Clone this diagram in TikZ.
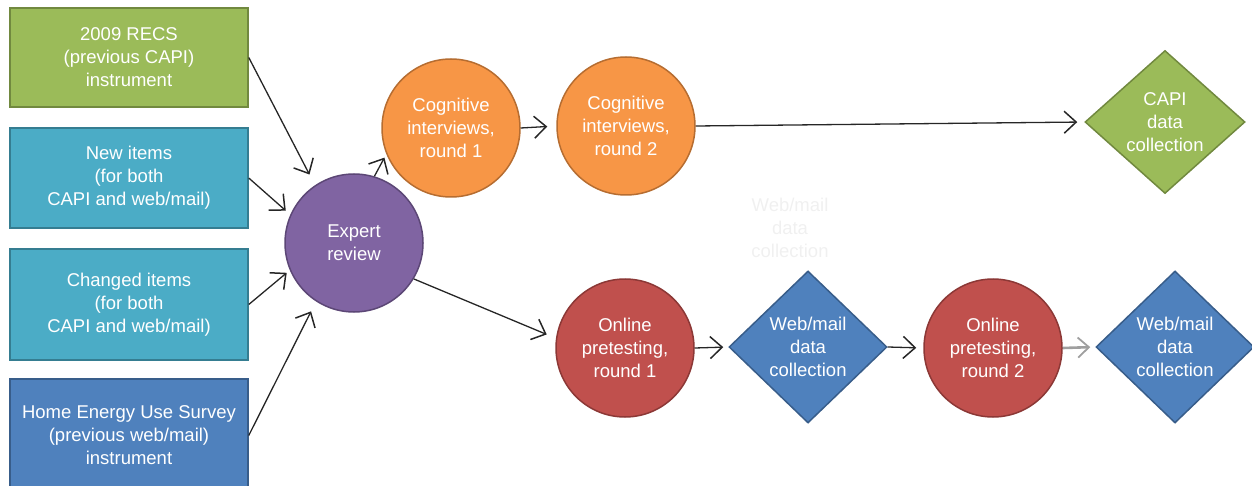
\documentclass[tikz,border=0pt]{standalone}
\usepackage{fontspec}
\setmainfont{Liberation Sans}
\usetikzlibrary{shapes.geometric,arrows.meta}
\definecolor{grn}{HTML}{9BBB59}
\definecolor{grnd}{HTML}{71893F}
\definecolor{aqua}{HTML}{4BACC6}
\definecolor{aquad}{HTML}{357D91}
\definecolor{blu}{HTML}{4F81BD}
\definecolor{blud}{HTML}{385D8A}
\definecolor{purp}{HTML}{8064A2}
\definecolor{purpd}{HTML}{5C4776}
\definecolor{orng}{HTML}{F79646}
\definecolor{orngd}{HTML}{B66D31}
\definecolor{redc}{HTML}{C0504D}
\definecolor{redd}{HTML}{8C3836}
\definecolor{faint}{HTML}{F0F0F0}
\tikzset{
  lbl/.style={text=white, align=center, font=\fontsize{18.5}{23}\selectfont},
  rbox/.style={lbl, rectangle, line width=1.5pt, minimum width=238pt, inner sep=0pt},
  circ/.style={lbl, circle, line width=1.5pt, minimum size=138pt, inner sep=0pt},
  dia/.style={lbl, diamond, line width=1.5pt, minimum width=158pt, minimum height=152pt, inner sep=0pt},
  arr/.style={-{Straight Barb[length=12pt,width=22pt,line width=1.5pt]}, line width=1.3pt, black!85},
}
\begin{document}
\begin{tikzpicture}[x=1pt,y=-1pt]
\useasboundingbox (0,0) rectangle (1252,486);
% left boxes
\node[rbox, fill=grn, draw=grnd, minimum height=99pt] (recs) at (129,57.5) {2009 RECS\\(previous CAPI)\\instrument};
\node[rbox, fill=aqua, draw=aquad, minimum height=100pt] (new) at (129,178) {New items\\(for both\\CAPI and web/mail)};
\node[rbox, fill=aqua, draw=aquad, minimum height=111pt] (chg) at (129,304.5) {Changed items\\(for both\\CAPI and web/mail)};
\node[rbox, fill=blu, draw=blud, minimum height=113pt] (home) at (129,435.5) {Home Energy Use Survey\\(previous web/mail)\\instrument};
% circles
\node[circ, fill=purp, draw=purpd] (exp) at (354,243) {Expert\\review};
\node[circ, fill=orng, draw=orngd] (cog1) at (451,128) {Cognitive\\interviews,\\round 1};
\node[circ, fill=orng, draw=orngd] (cog2) at (626,126) {Cognitive\\interviews,\\round 2};
\node[circ, fill=redc, draw=redd] (on1) at (625,348) {Online\\pretesting,\\round 1};
\node[circ, fill=redc, draw=redd] (on2) at (993,348) {Online\\pretesting,\\round 2};
% diamonds
\node[dia, fill=grn, draw=grnd, minimum height=143pt, minimum width=160pt] (capi) at (1165,122) {CAPI\\data\\collection};
\node[dia, fill=blu, draw=blud] (web1) at (808,347) {Web/mail\\data\\collection};
\node[dia, fill=blu, draw=blud] (web2) at (1175,347) {Web/mail\\data\\collection};
% faint text
\node[lbl, text=faint] (ghost) at (790,228) {Web/mail\\data\\collection};
% arrows
\draw[arr, shorten >=12pt] (recs.east) -- (exp.124);
\draw[arr, shorten >=6pt] (new.east) -- (exp.156);
\draw[arr, shorten >=4pt] (chg.east) -- (exp.203);
\draw[arr, shorten >=11pt] (home.east) -- (exp.237);
\draw[arr, shorten >=4pt] (exp.73) -- (cog1.202);
\draw[arr, shorten >=9pt] (cog1.east) -- (cog2.west);
\draw[arr, shorten >=7pt] (cog2.east) -- (capi.west);
\draw[arr, shorten >=10pt] (exp.-31) -- (on1.172);
\draw[arr, shorten >=5pt] (on1.east) -- (web1.west);
\draw[arr, shorten >=7pt] (web1.east) -- (on2.west);
\draw[arr, gray!75, line width=2.6pt, shorten >=5pt, -{Straight Barb[length=11pt,width=20pt,line width=1.8pt]}] (on2.east) -- (web2.west);
\end{tikzpicture}
\end{document}
